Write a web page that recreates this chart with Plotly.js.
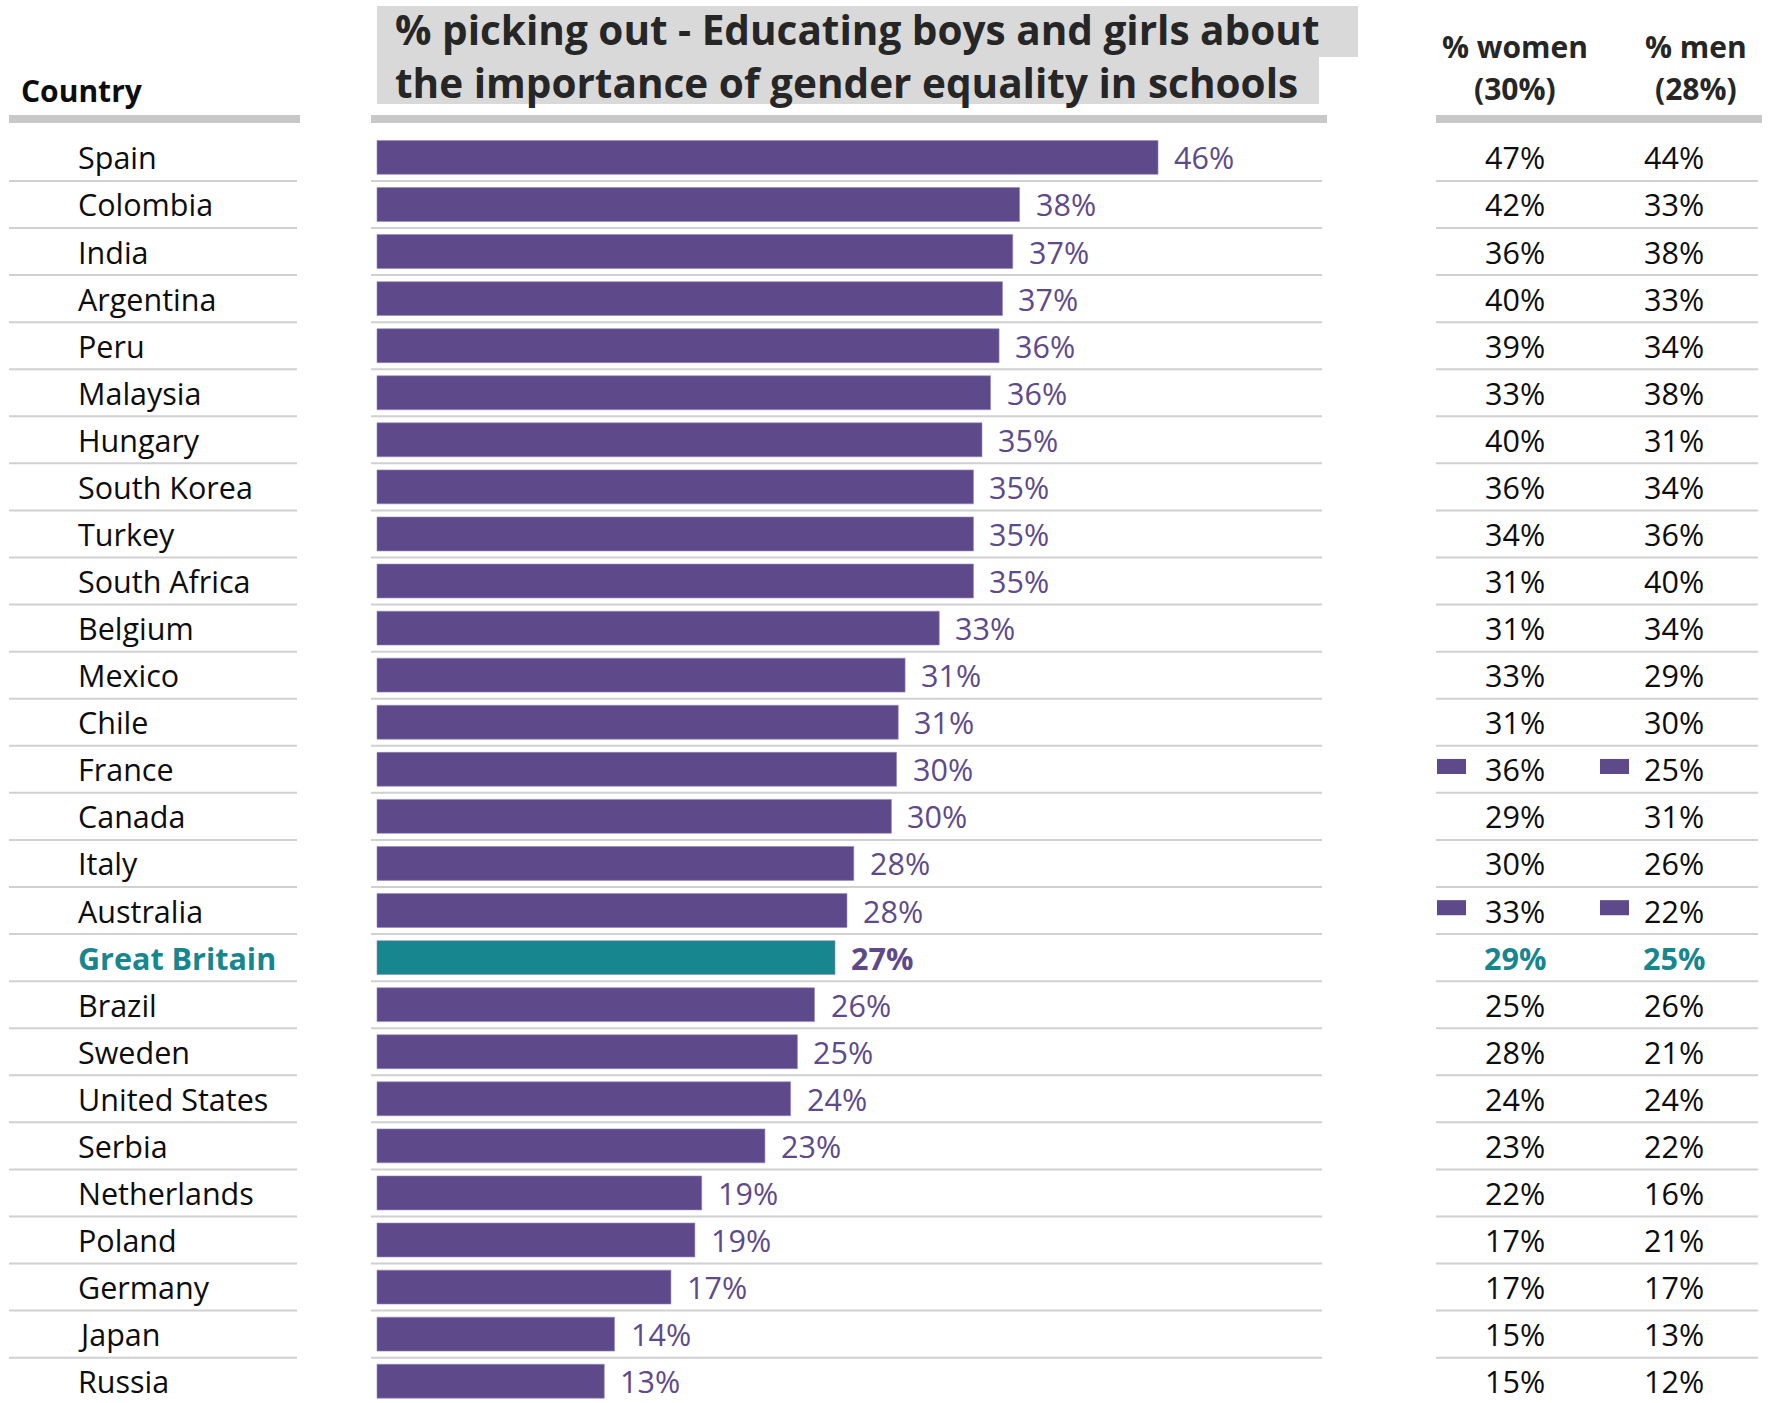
<!DOCTYPE html>
<html>
<head>
<meta charset="utf-8">
<script src="https://cdn.plot.ly/plotly-3.0.1.min.js"></script>
<style>html,body{margin:0;padding:0;background:#fff;}#chart{width:1775px;height:1403px;}</style>
</head>
<body>
<div id="chart"></div>
<script>
// ---- data ----
const countries = ["Spain","Colombia","India","Argentina","Peru","Malaysia","Hungary","South Korea","Turkey","South Africa","Belgium","Mexico","Chile","France","Canada","Italy","Australia","Great Britain","Brazil","Sweden","United States","Serbia","Netherlands","Poland","Germany","Japan","Russia"];
const overall = [45.7,37.6,37.2,36.6,36.4,35.9,35.4,34.9,34.9,34.9,32.9,30.9,30.5,30.4,30.1,27.9,27.5,26.8,25.6,24.6,24.2,22.7,19.0,18.6,17.2,13.9,13.3];
const women = [47,42,36,40,39,33,40,36,34,31,31,33,31,36,29,30,33,29,25,28,24,23,22,17,17,15,15];
const men = [44,33,38,33,34,38,31,34,36,40,34,29,30,25,31,26,22,25,26,21,24,22,16,21,17,13,12];
const highlight = "Great Britain";
const flaggedWomen = ["France","Australia"];
const flaggedMen = ["France","Australia"];
const titleLines = ["% picking out - Educating boys and girls about", "the importance of gender equality in schools"];
const headerCountry = "Country";
const headerWomen = ["% women", "(30%)"];
const headerMen = ["% men", "(28%)"];

// ---- styles ----
const W = 1775, H = 1403;
const PURPLE = "#5E4A8A", TEAL = "#17868F", GRID = "#D0D0D0", HEAD = "#C8C8C8";
const FONT = "Open Sans";
const FS = 30.5;
const px = v => v / W;          // x pixel -> paper
const py = v => 1 - v / H;      // y pixel -> paper
const rowTop = 157.4, rowH = 47.07, pxPerPct = 17.09, barLeft = 377;
const n = countries.length;

const barColors = countries.map(c => c === highlight ? TEAL : PURPLE);

const trace = {
  type: "bar", orientation: "h",
  y: countries, x: overall,
  marker: {color: barColors, line: {color: "rgba(150,135,190,0.6)", width: 1}},
  width: 0.72,
  hoverinfo: "skip"
};

const annotations = [];
const shapes = [];

// title boxes (one per line, like highlighted text)
shapes.push({type:"rect", xref:"paper", yref:"paper", x0:px(377), x1:px(1358), y0:py(57), y1:py(6), fillcolor:"#D9D9D9", line:{width:0}, layer:"below"});
shapes.push({type:"rect", xref:"paper", yref:"paper", x0:px(377), x1:px(1319), y0:py(104), y1:py(56), fillcolor:"#D9D9D9", line:{width:0}, layer:"below"});
annotations.push({text: titleLines.map(t => "<b>"+t+"</b>").join("<br>"), xref:"paper", yref:"paper", x:px(393), y:py(55.5), xanchor:"left", yanchor:"middle", align:"left", showarrow:false, font:{family:FONT, size:40.5, color:"#262626"}});

// headers
annotations.push({text:"<b>"+headerCountry+"</b>", xref:"paper", yref:"paper", x:px(19), y:py(90), xanchor:"left", yanchor:"middle", showarrow:false, font:{family:FONT, size:30, color:"#0d0d0d"}});
[[headerWomen,1515],[headerMen,1696]].forEach(([lines, cx]) => {
  lines.forEach((t, i) => {
    annotations.push({text:"<b>"+t+"</b>", xref:"paper", yref:"paper", x:px(cx), y:py(i===0?46:88), xanchor:"center", yanchor:"middle", showarrow:false, font:{family:FONT, size:30, color:"#262626"}});
  });
});
// header bars
[[9,300],[371,1327],[1436,1762]].forEach(([a,b]) => {
  shapes.push({type:"rect", xref:"paper", yref:"paper", x0:px(a), x1:px(b), y0:py(123), y1:py(115), fillcolor:HEAD, line:{width:0}});
});

// rows
countries.forEach((c, i) => {
  const hi = c === highlight;
  annotations.push({text: hi ? "<b>"+c+"</b>" : c, xref:"paper", yref:"y", x:px(76), y:c, xanchor:"left", yanchor:"middle", showarrow:false,
    font:{family:FONT, size:FS, color: hi ? TEAL : "#0d0d0d"}});
  const lbl = overall[i].toFixed(0) + "%";
  annotations.push({text: hi ? "<b>"+lbl+"</b>" : lbl, xref:"x", yref:"y", x:overall[i], y:c, xanchor:"left", yanchor:"middle", xshift:14, showarrow:false,
    font:{family:FONT, size:FS, color:PURPLE}});
  [[women[i],1515],[men[i],1674]].forEach(([v, cx]) => {
    const s = v + "%";
    annotations.push({text: hi ? "<b>"+s+"</b>" : s, xref:"paper", yref:"y", x:px(cx), y:c, xanchor:"center", yanchor:"middle", showarrow:false,
      font:{family:FONT, size:FS, color: hi ? TEAL : "#0d0d0d"}});
  });
  if (flaggedWomen.includes(c)) {
    shapes.push({type:"rect", xref:"paper", yref:"y", x0:px(1437), x1:px(1466), y0:i-0.22, y1:i+0.1, fillcolor:PURPLE, line:{width:0}});
  }
  if (flaggedMen.includes(c)) {
    shapes.push({type:"rect", xref:"paper", yref:"y", x0:px(1600), x1:px(1629), y0:i-0.22, y1:i+0.1, fillcolor:PURPLE, line:{width:0}});
  }
  if (i < n - 1) {
    [[9,297],[371,1322],[1436,1758]].forEach(([a,b]) => {
      shapes.push({type:"line", xref:"paper", yref:"y", x0:px(a), x1:px(b), y0:i+0.5, y1:i+0.5, line:{color:GRID, width:2}, layer:"below"});
    });
  }
});

const topUnits = -rowTop / rowH;
const botUnits = topUnits + H / rowH;
const xLeft = -barLeft / pxPerPct;
const xRight = (W - barLeft) / pxPerPct;

const layout = {
  width: W, height: H,
  margin: {l:0, r:0, t:0, b:0, pad:0},
  paper_bgcolor: "#fff", plot_bgcolor: "rgba(0,0,0,0)",
  showlegend: false,
  font: {family: FONT},
  xaxis: {range:[xLeft, xRight], domain:[0,1], visible:false, fixedrange:true},
  yaxis: {type:"category", categoryorder:"array", categoryarray:countries, range:[botUnits, topUnits], domain:[0,1], visible:false, fixedrange:true},
  shapes: shapes,
  annotations: annotations
};

Plotly.newPlot("chart", [trace], layout, {displayModeBar:false, staticPlot:true});
</script>
</body>
</html>
